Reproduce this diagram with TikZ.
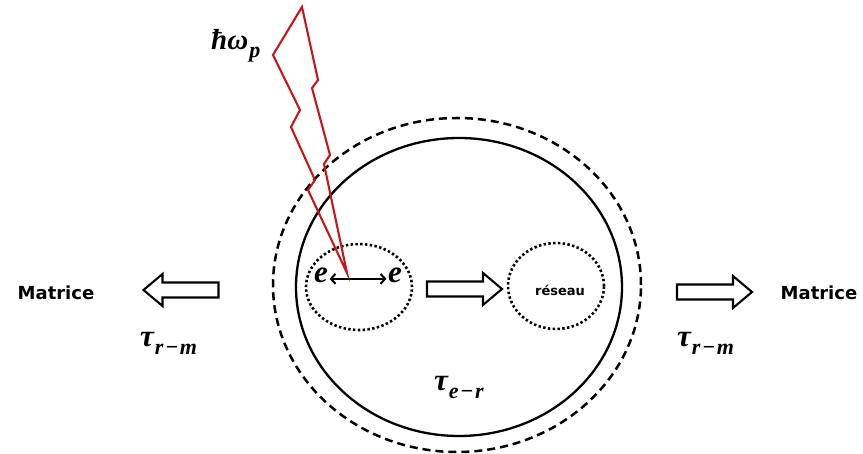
\documentclass[tikz,border=0pt]{standalone}
\usepackage{fontspec}
\setsansfont{DejaVu Sans}
\newfontfamily\symfont{Liberation Serif}
\usetikzlibrary{shapes.geometric,arrows.meta}
\definecolor{boltred}{RGB}{196,24,24}
\newcommand{\subtxt}[1]{\kern1pt\raisebox{-8pt}{\fontsize{22}{22}\selectfont #1}}
\newcommand{\submin}{\kern1.5pt−\kern1.5pt}
\begin{document}
\begin{tikzpicture}[x=1pt,y=-1pt,
  matr/.style={font=\sffamily\bfseries\fontsize{18}{20}\selectfont, inner sep=0pt},
  greek/.style={font=\symfont\bfseries\itshape\fontsize{31}{33}\selectfont, inner sep=0pt, anchor=base west},
  ecell/.style={font=\symfont\bfseries\itshape\fontsize{31}{33}\selectfont, inner sep=1.5pt, anchor=base},
  solidring/.style={draw, ellipse, line width=2.3pt, inner sep=0pt},
  dashring/.style={draw, ellipse, line width=2.5pt, dash pattern=on 8pt off 5pt, inner sep=0pt},
  dotring/.style={draw, ellipse, line width=2.6pt, dash pattern=on 2.4pt off 2.4pt, inner sep=0pt},
  hollowarrow/.pic={\draw[line width=2.1pt, miter limit=10] (-37.5,-7.5) -- (18.5,-7.5) -- (18.5,-16) -- (37.5,0) -- (18.5,16) -- (18.5,7.5) -- (-37.5,7.5) -- cycle;},
  bolt/.style={draw=boltred, line width=2.1pt, line join=miter},
  barb/.style={line width=2pt, {Straight Barb[length=4.5pt,width=10pt]}-{Straight Barb[length=4.5pt,width=10pt]}}
]
\useasboundingbox (0,0) rectangle (863,454);
\node[dashring, minimum width=368pt, minimum height=334pt] (outer) at (457,285) {};
\node[solidring, minimum width=326pt, minimum height=298pt] (cell) at (459,287) {};
\node[dotring, minimum width=106pt, minimum height=86pt] (elec) at (359,287) {};
\node[dotring, minimum width=96pt, minimum height=86pt] (lattice) at (556,286) {};
\node[font=\sffamily\bfseries\fontsize{13}{15}\selectfont, inner sep=0pt] (reseau) at (560,290) {réseau};

\node[ecell] (e1) at (321,283) {e};
\node[ecell] (e2) at (395,283) {e};
\draw[barb] ([yshift=-3pt]e1.east) -- ([yshift=-3pt]e2.west);

\node[matr] (matL) at (56,293) {Matrice};
\node[matr] (matR) at (819,293) {Matrice};

\pic[rotate=180] (arrL) at (181,290) {hollowarrow};
\pic (arrM) at (464.5,289) {hollowarrow};
\pic (arrR) at (714.5,292) {hollowarrow};

\node[greek, font=\symfont\bfseries\itshape\fontsize{29}{31}\selectfont] (hw) at (211,50) {ħω\subtxt{p}};
\node[greek] (trmL) at (140,347) {τ\subtxt{r\submin m}};
\node[greek] (trmR) at (677,347) {τ\subtxt{r\submin m}};
\node[greek] (ter) at (434,391) {τ\subtxt{e\submin r}};

\coordinate (strike) at (347,273);
\draw[bolt] (302,7) -- (318,80) -- (312,88) -- (330,155) -- (324,164) -- (strike) -- (308,190) -- (315,180) -- (291,127) -- (300,110) -- (273,55) -- cycle;
\end{tikzpicture}
\end{document}
